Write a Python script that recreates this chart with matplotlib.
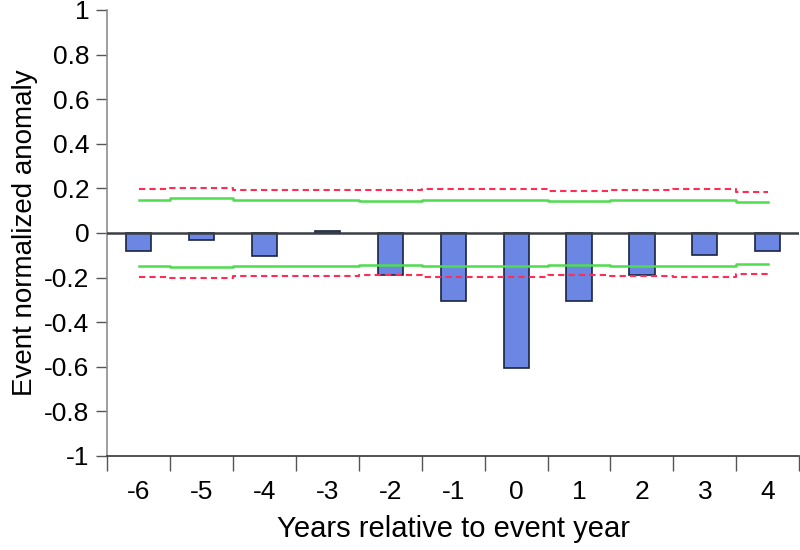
# Event normalized anomaly around event year, bars with significance bands

import numpy as np
import matplotlib.pyplot as plt

plt.rcParams['font.family'] = ['Liberation Sans', 'DejaVu Sans']

# Data
years = [-6, -5, -4, -3, -2, -1, 0, 1, 2, 3, 4]
anomaly = [-0.079, -0.033, -0.103, 0.01, -0.19, -0.303, -0.606, -0.307, -0.19, -0.101, -0.079]
green_upper = [0.149, 0.155, 0.149, 0.149, 0.142, 0.147, 0.147, 0.142, 0.148, 0.148, 0.139]
green_lower = [-0.148, -0.155, -0.148, -0.148, -0.142, -0.148, -0.148, -0.143, -0.148, -0.148, -0.139]
red_upper = [0.196, 0.2, 0.191, 0.194, 0.191, 0.196, 0.196, 0.19, 0.192, 0.196, 0.182]
red_lower = [-0.196, -0.202, -0.193, -0.194, -0.19, -0.196, -0.196, -0.19, -0.192, -0.196, -0.183]

x = np.arange(len(years))

fig = plt.figure(figsize=(8, 5.5), dpi=100)
ax = fig.add_axes([0.134, 0.171, 0.865, 0.811])

ax.bar(x, anomaly, width=0.4, color='#6b86e3', edgecolor='#1a2440', linewidth=1.2, zorder=2)
ax.axhline(0, color='#3a3f44', linewidth=1.8, zorder=3)

ax.plot(x, green_upper, drawstyle='steps-mid', color='#4fdc4f', linewidth=1.8, zorder=4)
ax.plot(x, green_lower, drawstyle='steps-mid', color='#4fdc4f', linewidth=1.8, zorder=4)
ax.plot(x, red_upper, drawstyle='steps-mid', color='#ff2d55', linewidth=1.5,
        linestyle=(0, (3, 2)), zorder=4)
ax.plot(x, red_lower, drawstyle='steps-mid', color='#ff2d55', linewidth=1.5,
        linestyle=(0, (3, 2)), zorder=4)

ax.set_xlim(-0.5, len(years) - 0.5)
ax.set_ylim(-1, 1)

ax.set_yticks(np.round(np.arange(-1, 1.01, 0.2), 1))
ax.set_yticklabels(['-1', '-0.8', '-0.6', '-0.4', '-0.2', '0', '0.2', '0.4', '0.6', '0.8', '1'])
ax.tick_params(axis='y', direction='out', length=8, width=1, color='#555555',
               labelsize=19, pad=5)

ax.set_xticks(x)
ax.set_xticklabels([str(y) for y in years])
ax.set_xticks(np.arange(-0.5, len(years), 1), minor=True)
ax.tick_params(axis='x', which='major', length=0, labelsize=19, pad=17)
ax.tick_params(axis='x', which='minor', direction='out', length=11, width=1, color='#555555')

for s in ['top', 'right']:
    ax.spines[s].set_visible(False)
ax.spines['left'].set_color('#8a8f94')
ax.spines['left'].set_linewidth(1.2)
ax.spines['bottom'].set_color('#333333')
ax.spines['bottom'].set_linewidth(1.2)

ax.set_ylabel('Event normalized anomaly', fontsize=20, labelpad=4)
ax.set_xlabel('Years relative to event year', fontsize=21, labelpad=8)

fig.savefig('out.png', dpi=100)
